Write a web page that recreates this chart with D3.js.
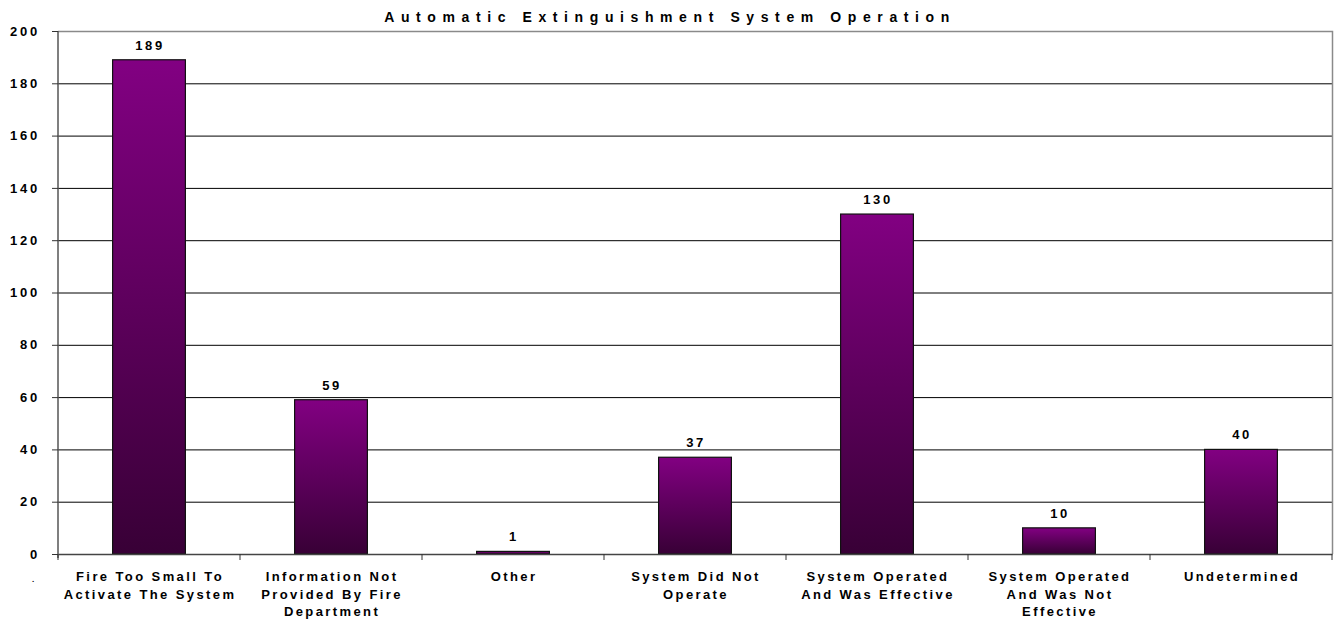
<!DOCTYPE html>
<html><head><meta charset="utf-8">
<script src="https://cdn.jsdelivr.net/npm/d3@7"></script>
<style>
body{margin:0;background:#fff;}
text{font-family:"Liberation Sans",Arial,sans-serif;font-weight:bold;fill:#000;}
</style></head>
<body><svg id="c" width="1339" height="623"></svg>
<script>
const title = "Automatic Extinguishment System Operation";
const categories = [
  ["Fire Too Small To","Activate The System"],
  ["Information Not","Provided By Fire","Department"],
  ["Other"],
  ["System Did Not","Operate"],
  ["System Operated","And Was Effective"],
  ["System Operated","And Was Not","Effective"],
  ["Undetermined"]
];
const values = [189, 59, 1, 37, 130, 10, 40];
const yTicks = [0,20,40,60,80,100,120,140,160,180,200];

const svg = d3.select("#c");
const m = {l:58, r:1332, t:31, b:554};
const x = d3.scaleBand().domain(d3.range(categories.length)).range([m.l, m.r]).paddingInner(0.6).paddingOuter(0.3);
const xb = d3.scaleBand().domain(d3.range(categories.length)).range([m.l, m.r]);
const y = d3.scaleLinear().domain([0,200]).range([m.b, m.t]);

const defs = svg.append("defs");
const g = defs.append("linearGradient").attr("id","grad").attr("x1",0).attr("y1",0).attr("x2",0).attr("y2",1);
g.append("stop").attr("offset","0%").attr("stop-color","#820082");
g.append("stop").attr("offset","100%").attr("stop-color","#380036");

// gridlines
svg.append("g").selectAll("line").data(yTicks.filter(d=>d>0 && d<200)).join("line")
  .attr("x1",m.l).attr("x2",m.r).attr("y1",d=>y(d)+0.5).attr("y2",d=>y(d)+0.5)
  .attr("stroke","#000").attr("stroke-width",1);
// plot border top/right
svg.append("path").attr("d",`M${m.l},${m.t+0.5}H${m.r+0.5}V${m.b}`).attr("fill","none").attr("stroke","#8a8a8a").attr("stroke-width",1.5);

// bars
svg.append("g").selectAll("rect").data(values).join("rect")
  .attr("x",(d,i)=>x(i)).attr("width",x.bandwidth())
  .attr("y",d=>y(d)).attr("height",d=>y(0)-y(d))
  .attr("fill","url(#grad)").attr("stroke","#111").attr("stroke-width",1.2);

// value labels
svg.append("g").selectAll("text").data(values).join("text")
  .attr("x",(d,i)=>x(i)+x.bandwidth()/2+1).attr("y",d=>y(d)-10)
  .attr("text-anchor","middle").attr("font-size",13).attr("letter-spacing",2.6)
  .text(d=>d);

// y axis
const ya = svg.append("g").attr("transform",`translate(${m.l},0)`)
  .call(d3.axisLeft(y).tickValues(yTicks).tickSize(6).tickPadding(12));
ya.select(".domain").attr("stroke","#555").attr("stroke-width",1.5).attr("d",`M0,${m.t}V${m.b+4}`);
ya.selectAll(".tick line").attr("stroke","#333");
ya.selectAll(".tick text").attr("font-size",13).attr("letter-spacing",2.8).attr("font-family","Liberation Sans, Arial, sans-serif").attr("font-weight","bold").attr("fill","#000");

// x axis
const xa = svg.append("g").attr("transform",`translate(0,${m.b})`)
  .call(d3.axisBottom(xb).tickSize(0).tickFormat(""));
xa.select(".domain").attr("stroke","#444").attr("stroke-width",1.5);
svg.append("g").selectAll("line").data(d3.range(categories.length+1)).join("line")
  .attr("x1",i=>m.l + i*xb.step()).attr("x2",i=>m.l + i*xb.step())
  .attr("y1",m.b).attr("y2",m.b+6).attr("stroke","#333");

// category labels
const cl = svg.append("g").selectAll("text").data(categories).join("text")
  .attr("text-anchor","middle").attr("font-size",13).attr("letter-spacing",2.4)
  .attr("transform",(d,i)=>`translate(${xb(i)+xb.bandwidth()/2+1},581)`);
cl.selectAll("tspan").data(d=>d).join("tspan")
  .attr("x",0).attr("dy",(d,j)=>j===0?0:17.5).text(d=>d);

// stray dot
svg.append("text").attr("x",32).attr("y",582).attr("font-size",8).attr("font-weight","normal").attr("fill","#777").text(".");

// title
svg.append("text").attr("x",670).attr("y",22).attr("text-anchor","middle")
  .attr("font-size",14).attr("letter-spacing",6.6).text(title);
</script></body></html>
